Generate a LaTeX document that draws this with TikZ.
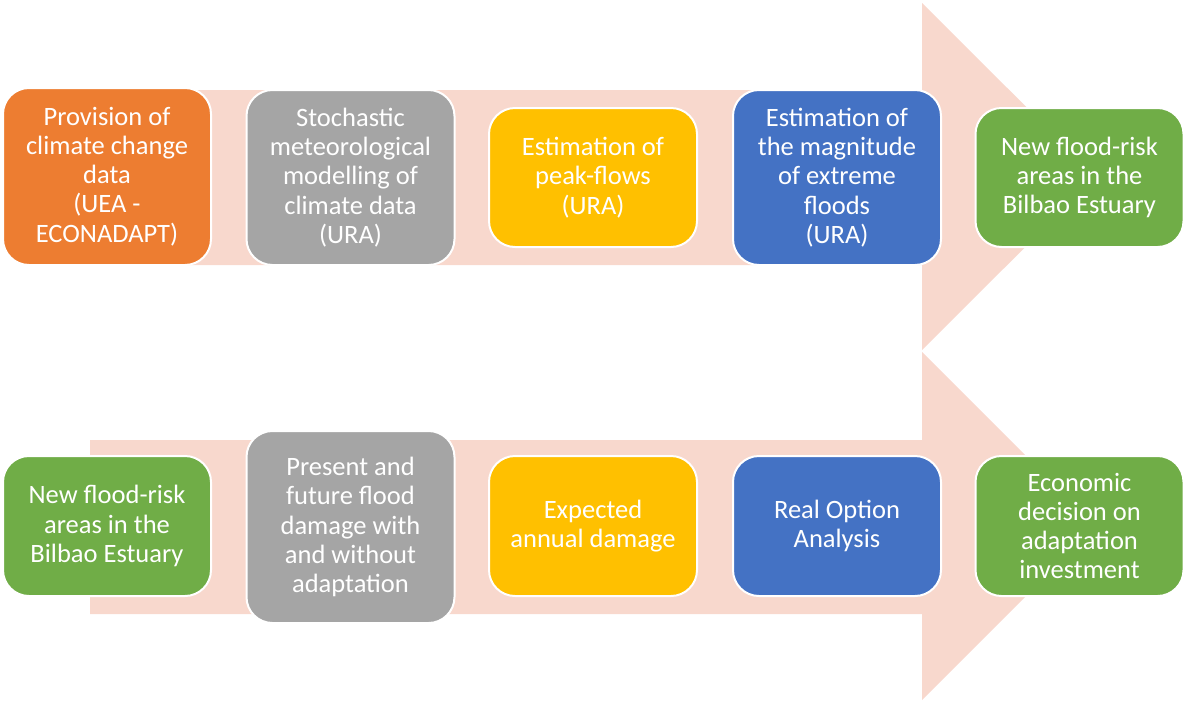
\documentclass[tikz,border=0pt]{standalone}
\usepackage{fontspec}
\setmainfont{Carlito}
\usetikzlibrary{positioning}
\definecolor{arrowbg}{HTML}{F8D8CD}
\definecolor{stepor}{HTML}{ED7D31}
\definecolor{stepgr}{HTML}{A5A5A5}
\definecolor{stepye}{HTML}{FFC000}
\definecolor{stepbl}{HTML}{4472C4}
\definecolor{stepgn}{HTML}{70AD47}

\begin{document}
\begin{tikzpicture}[
    x=1pt, y=-1pt,
    % Define styles
    stepbox/.style={rectangle, draw=white, line width=2pt, rounded corners=26pt, minimum width=208pt, align=center, text=white, font=\fontsize{26.5}{29.2}\selectfont, inner sep=1pt},
    bigarrow/.style={fill=arrowbg}
  ]
  \useasboundingbox (0,0) rectangle (1184,702);

  % Background arrows
  \fill[bigarrow] (90,90) -- (922,90) -- (922,3) -- (1096,176.5) -- (922,350) -- (922,265) -- (90,265) -- cycle;
  \fill[bigarrow] (90,440) -- (922,440) -- (922,352) -- (1096,526) -- (922,700) -- (922,614) -- (90,614) -- cycle;

  % Upper row
  \node[stepbox, fill=stepor, minimum height=177pt] (provision) at (107,176.5) {Provision of\\climate change\\data\\(UEA -\\ECONADAPT)};
  \node[stepbox, fill=stepgr, minimum height=175pt] (stochastic) at (350.5,177.5) {Stochastic\\meteorological\\modelling of\\climate data\\(URA)};
  \node[stepbox, fill=stepye, minimum height=139pt] (peakflows) at (593,177.5) {Estimation of\\peak-flows\\(URA)};
  \node[stepbox, fill=stepbl, minimum height=175pt] (magnitude) at (837,177.5) {Estimation of\\the magnitude\\of extreme\\floods\\(URA)};
  \node[stepbox, fill=stepgn, minimum height=139pt] (newareas) at (1079.5,177.5) {New flood-risk\\areas in the\\Bilbao Estuary};

  % Lower row
  \node[stepbox, fill=stepgn, minimum height=140pt] (areasin) at (107,526) {New flood-risk\\areas in the\\Bilbao Estuary};
  \node[stepbox, fill=stepgr, minimum height=192pt] (damage) at (350.5,527) {Present and\\future flood\\damage with\\and without\\adaptation};
  \node[stepbox, fill=stepye, minimum height=140pt] (annual) at (593,526) {Expected\\annual damage};
  \node[stepbox, fill=stepbl, minimum height=140pt] (realoption) at (837,526) {Real Option\\Analysis};
  \node[stepbox, fill=stepgn, minimum height=140pt] (decision) at (1079.5,526) {Economic\\decision on\\adaptation\\investment};

\end{tikzpicture}
\end{document}
